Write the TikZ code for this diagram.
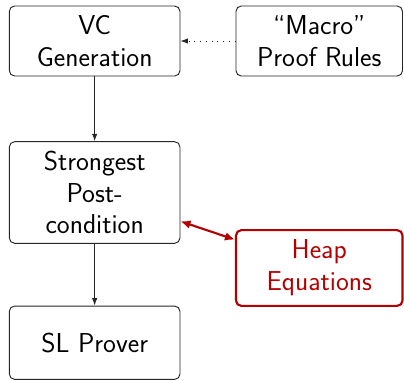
\documentclass[tikz,border=0pt]{standalone}
\usetikzlibrary{arrows.meta}
\definecolor{heapred}{RGB}{180,0,0}
\begin{document}
\begin{tikzpicture}[x=0.75pt,y=-0.75pt,
  box/.style={draw=black!85, line width=0.7pt, rounded corners=4pt,
    minimum width=128pt, align=center, inner sep=0pt,
    font=\sffamily\fontsize{20.5}{23.8}\selectfont},
  hotbox/.style={box, draw=heapred, text=heapred, line width=1.6pt},
  flow/.style={draw=black!85, line width=0.7pt, -{Latex[length=5.5pt,width=4pt]}},
  hint/.style={flow, dash pattern=on 0.7pt off 3.6pt},
  link/.style={draw=heapred, line width=1.6pt,
    {Latex[length=7.5pt,width=6.5pt]}-{Latex[length=7.5pt,width=6.5pt]}}]
  \useasboundingbox (0,0) rectangle (404,380);

  % pipeline on the left
  \node[box, minimum height=52.5pt] (vc) at (94.65,41) {VC\\Generation};
  \node[box, minimum height=76.2pt] (sp) at (94.65,192.5) {Strongest\\Post-\\condition};
  \node[box, minimum height=55pt] (slp) at (94.65,342.7) {SL Prover};

  % supporting components on the right
  \node[box, minimum width=124.9pt, minimum height=52.5pt] (macro) at (319.25,41) {``Macro''\\Proof Rules};
  \node[hotbox, minimum width=124.9pt, minimum height=56.8pt] (heap) at (319.25,268) {Heap\\Equations};

  % connectors
  \draw[flow] (vc) -- (sp);
  \draw[flow] (sp) -- (slp);
  \draw[hint] (macro) -- (vc);
  \draw[link] (sp) -- (heap);
\end{tikzpicture}
\end{document}
